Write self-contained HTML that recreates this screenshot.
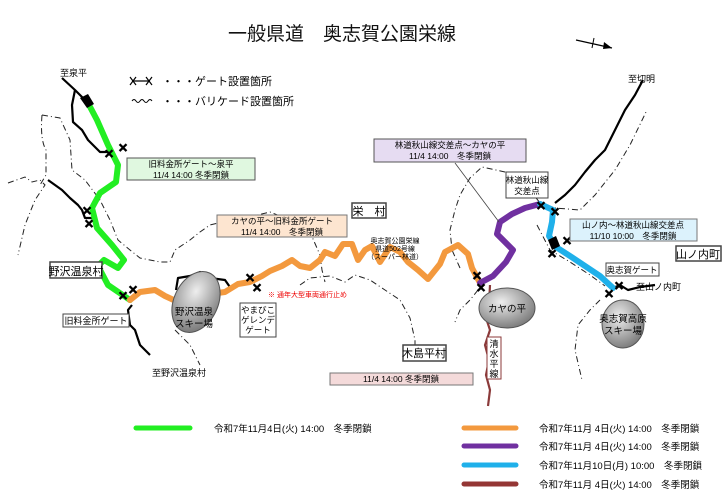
<!DOCTYPE html>
<html><head><meta charset="utf-8"><style>
html,body{margin:0;padding:0;background:#fff;}
svg{display:block;font-family:"Liberation Sans","Noto Sans CJK JP",sans-serif;}
</style></head><body>
<svg width="724" height="496" viewBox="0 0 724 496" xmlns="http://www.w3.org/2000/svg">
<rect width="724" height="496" fill="#fff"/>
<text x="342" y="40" font-size="19" text-anchor="middle" fill="#111">一般県道　奥志賀公園栄線</text>
<line x1="576" y1="40" x2="612" y2="48" stroke="#000" stroke-width="1.2"/>
<line x1="594" y1="38" x2="592" y2="48" stroke="#000" stroke-width="1"/>
<polygon points="612,48 604,42 603,49" fill="#000"/>

<g stroke="#000" stroke-width="1.2"><line x1="132" y1="81" x2="150" y2="81"/><line x1="130" y1="77" x2="136" y2="85"/><line x1="136" y1="77" x2="130" y2="85"/><line x1="146" y1="77" x2="152" y2="85"/><line x1="152" y1="77" x2="146" y2="85"/></g>
<text x="162" y="85" font-size="11">・・・ゲート設置箇所</text>
<path d="M132,101 q2,-3 4,0 q2,3 4,0 q2,-3 4,0 q2,3 4,0 q2,-3 4,0" stroke="#000" fill="none" stroke-width="1"/>
<text x="162" y="105" font-size="11">・・・バリケード設置箇所</text>

<g stroke="#222" stroke-width="1" fill="none" stroke-dasharray="6,3,1,3">
<path d="M8,183 L25,177 L32,182 L40,180 L45,185 L35,200 L25,225 L18,255"/>
<path d="M42,115 Q40,140 46,150 L46,175 L40,185"/>
<path d="M42,115 L60,118 L70,140 L72,170 L85,180 L100,200 L110,220 L118,240 L130,250 L140,258 L160,262 L170,262 L175,250 L190,240 L200,232 L210,225 L230,220 L245,218 L270,212 L290,220 L310,232 L320,255 L322,270 L325,282"/>
<path d="M300,285 L310,278 L330,276 L345,282 L355,275 L370,280 L385,290 L400,300 L410,318 L415,340 L415,350"/>
<path d="M460,268 L452,250 L450,230 L455,210 L460,195 L470,178 L482,167 L505,172 L525,175 L530,190 L540,203 L555,208 L580,210 L595,195 L615,170 L630,145 L647,110"/>
<path d="M478,290 L470,300 L460,310 L455,322"/>
<path d="M537,225 L550,250 L570,262 L590,275 L605,286"/>
<path d="M600,300 L590,310 L578,325 L575,350 L582,380"/>
<path d="M175,330 L190,345 L200,365"/>
</g>

<g stroke="#000" stroke-width="2.2" fill="none" stroke-linejoin="round">
<path d="M62,78 L75,90 L88,103"/>
<path d="M75,90 L72,105 L73,122 L82,130 L88,140 L100,152 L112,152"/>
<path d="M48,180 L62,190 L70,198 L78,205 L82,210 L85,218 L95,218"/>
<path d="M132,305 L128,310 L130,325 L135,330 L140,345 L150,355"/>
<path d="M176,290 L178,278 L190,276 L200,272 L210,278 L225,280 L232,290"/>
<path d="M555,203 L565,195 L575,185 L585,172 L595,160 L605,150 L615,130 L625,110 L635,95 L643,80"/>
<path d="M613,288 L620,285 L628,290 L640,287 L655,285"/>
</g>
<g stroke="#8b3a3a" stroke-width="2.2" fill="none"><path d="M490,285 L489,305 L486,318 L490,330 L485,345 L489,360 L486,375 L490,390 L488,406"/></g>

<g fill="none" stroke-width="6" stroke-linecap="round" stroke-linejoin="round">
<path stroke="#22ee22" d="M88,103 L97,120 L108,145 L118,165 L116,182 L100,193 L92,208 L97,228 L112,245 L124,260 L118,268 L104,260 L98,266 L108,285 L130,300"/>
<path stroke="#f3993e" d="M130,300 L140,292 L155,290 L165,296 L178,302 L195,300 L210,294 L225,292 L238,284 L250,282 L262,276 L270,271 L282,266 L292,260 L300,266 L310,268 L320,260 L325,252 L335,256 L343,244 L352,244 L358,260 L365,250 L372,246 L380,262 L390,247 L400,252 L408,262 L418,270 L428,279 L440,264 L445,252 L458,245 L468,254 L472,268 L480,283"/>
<path stroke="#7030a0" d="M480,283 L493,276 L506,262 L513,250 L505,242 L497,234 L500,222 L512,214 L525,208 L540,204"/>
<path stroke="#1fb0ea" d="M540,204 L553,210 L552,222 L549,236 L556,247 L570,256 L585,266 L600,276 L613,288"/>
</g>
<polygon points="80,98 88,94 94,104 87,108" fill="#000"/>
<polygon points="548,240 556,236 560,246 552,250" fill="#000"/>
<g stroke="#000" stroke-width="1.1" font-size="12" fill="#000">
<text x="104" y="158">✕</text><text x="118" y="152">✕</text><text x="82" y="215">✕</text><text x="84" y="228">✕</text>
<text x="118" y="300">✕</text><text x="128" y="294">✕</text><text x="245" y="282">✕</text><text x="252" y="292">✕</text>
<text x="472" y="280">✕</text><text x="476" y="292">✕</text><text x="536" y="210">✕</text><text x="550" y="216">✕</text>
<text x="562" y="245">✕</text><text x="547" y="258">✕</text><text x="614" y="290">✕</text><text x="604" y="298">✕</text>
</g>

<defs><radialGradient id="g" cx="40%" cy="35%" r="70%"><stop offset="0" stop-color="#eee"/><stop offset="1" stop-color="#777"/></radialGradient></defs>
<ellipse cx="196" cy="302" rx="22" ry="32" transform="rotate(25 196 302)" fill="url(#g)" stroke="#555"/>
<ellipse cx="507" cy="308" rx="28" ry="20" fill="url(#g)" stroke="#555"/>
<ellipse cx="623" cy="324" rx="21" ry="24" fill="url(#g)" stroke="#555"/>
<g font-size="9.5" text-anchor="middle">
<text x="194" y="315">野沢温泉</text><text x="194" y="327">スキー場</text>
<text x="507" y="312">カヤの平</text>
<text x="623" y="322">奥志賀高原</text><text x="623" y="334">スキー場</text>
</g>

<rect x="127" y="158" width="128" height="22" fill="#e0f8e0" stroke="#555"/>
<text x="191" y="167" font-size="8.5" text-anchor="middle">旧料金所ゲート～泉平</text>
<text x="191" y="178" font-size="8.5" text-anchor="middle">11/4 14:00 冬季閉鎖</text>
<rect x="217" y="215" width="130" height="22" fill="#fde5d0" stroke="#777"/>
<text x="282" y="224" font-size="8.5" text-anchor="middle">カヤの平～旧料金所ゲート</text>
<text x="282" y="235" font-size="8.5" text-anchor="middle">11/4 14:00　冬季閉鎖</text>
<rect x="374" y="139" width="152" height="23" fill="#e6dcf2" stroke="#555"/>
<text x="450" y="148" font-size="8.5" text-anchor="middle">林道秋山線交差点～カヤの平</text>
<text x="450" y="159" font-size="8.5" text-anchor="middle">11/4 14:00　冬季閉鎖</text>
<line x1="455" y1="163" x2="499" y2="222" stroke="#444" stroke-width="0.8"/>
<rect x="570" y="219" width="127" height="22" fill="#dcf2fc" stroke="#777"/>
<text x="633" y="228" font-size="8.5" text-anchor="middle">山ノ内～林道秋山線交差点</text>
<text x="633" y="239" font-size="8.5" text-anchor="middle">11/10 10:00　冬季閉鎖</text>
<rect x="330" y="373" width="143" height="12" fill="#f4dada" stroke="#777"/>
<text x="401" y="382" font-size="8.5" text-anchor="middle">11/4 14:00 冬季閉鎖</text>

<g fill="#fff" stroke="#444">
<rect x="50" y="262" width="52" height="16" stroke-width="1.5"/>
<rect x="63" y="314" width="66" height="13"/>
<rect x="352" y="203" width="34" height="15" stroke-width="1.5"/>
<rect x="506" y="172" width="42" height="26"/>
<rect x="676" y="246" width="45" height="15" stroke-width="1.5"/>
<rect x="606" y="263" width="53" height="13"/>
<rect x="240" y="303" width="36" height="34"/>
<rect x="403" y="345" width="43" height="16" stroke-width="1.5"/>
<rect x="487" y="337" width="14" height="42" stroke="#8b3a3a"/>
</g>
<g font-size="10">
<text x="76" y="275" text-anchor="middle" font-size="11">野沢温泉村</text>
<text x="96" y="324" text-anchor="middle" font-size="9">旧料金所ゲート</text>
<text x="369" y="215" text-anchor="middle" font-size="11">栄　村</text>
<text x="527" y="183" text-anchor="middle" font-size="8.5">林道秋山線</text>
<text x="527" y="194" text-anchor="middle" font-size="8.5">交差点</text>
<text x="698" y="258" text-anchor="middle" font-size="11">山ノ内町</text>
<text x="632" y="273" text-anchor="middle" font-size="8.5">奥志賀ゲート</text>
<text x="258" y="313" text-anchor="middle" font-size="8.5">やまびこ</text>
<text x="258" y="323" text-anchor="middle" font-size="8.5">ゲレンデ</text>
<text x="258" y="333" text-anchor="middle" font-size="8.5">ゲート</text>
<text x="424" y="357" text-anchor="middle" font-size="11">木島平村</text>
<text x="494" y="347" text-anchor="middle" font-size="9">清</text>
<text x="494" y="357" text-anchor="middle" font-size="9">水</text>
<text x="494" y="367" text-anchor="middle" font-size="9">平</text>
<text x="494" y="377" text-anchor="middle" font-size="9">線</text>
<text x="60" y="76" font-size="9">至泉平</text>
<text x="152" y="376" font-size="9">至野沢温泉村</text>
<text x="628" y="82" font-size="9">至切明</text>
<text x="636" y="290" font-size="9">至山ノ内町</text>
<text x="395" y="243" font-size="7" text-anchor="middle">奥志賀公園栄線</text>
<text x="395" y="251" font-size="7" text-anchor="middle">県道502号線</text>
<text x="395" y="259" font-size="7" text-anchor="middle">（スーパー林道）</text>
<text x="268" y="297" font-size="7" fill="#e00">※ 通年大型車両通行止め</text>
</g>

<g stroke-width="5" stroke-linecap="round">
<line x1="136" y1="428" x2="190" y2="428" stroke="#22ee22"/>
<line x1="464" y1="428" x2="516" y2="428" stroke="#f3993e"/>
<line x1="464" y1="446" x2="516" y2="446" stroke="#7030a0"/>
<line x1="464" y1="465" x2="516" y2="465" stroke="#1fb0ea"/>
<line x1="464" y1="484" x2="516" y2="484" stroke="#943634"/>
</g>
<g font-size="9.5">
<text x="214" y="432">令和7年11月4日(火) 14:00　冬季閉鎖</text>
<text x="539" y="432">令和7年11月 4日(火) 14:00　冬季閉鎖</text>
<text x="539" y="450">令和7年11月 4日(火) 14:00　冬季閉鎖</text>
<text x="539" y="469">令和7年11月10日(月) 10:00　冬季閉鎖</text>
<text x="539" y="488">令和7年11月 4日(火) 14:00　冬季閉鎖</text>
</g>
</svg>
</body></html>
